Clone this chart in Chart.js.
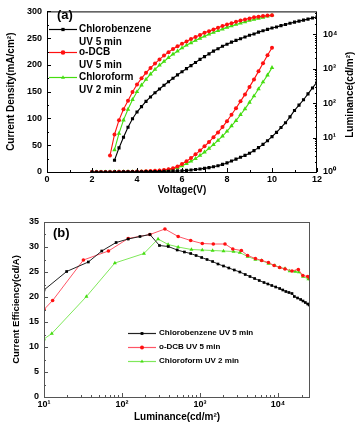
<!DOCTYPE html>
<html>
<head>
<meta charset="utf-8">
<script src="https://cdn.jsdelivr.net/npm/chart.js@4.4.1/dist/chart.umd.min.js"></script>
<style>
  html, body { margin: 0; padding: 0; background: #fff; }
  #wrap { position: relative; width: 356px; height: 424px; overflow: hidden; }
  canvas { position: absolute; left: 0; }
  #chartA { top: 0; }
  #chartB { top: 200px; }
</style>
</head>
<body>
<div id="wrap">
  <canvas id="chartA" width="356" height="200"></canvas>
  <canvas id="chartB" width="356" height="224"></canvas>
</div>
<script>
// ---- data, panel (a) ----
const solvents = ['Chlorobenzene', 'o-DCB', 'Chloroform'];
const treatments = ['UV 5 min', 'UV 5 min', 'UV 2 min'];

const voltage = [2.0, 2.2, 2.4, 2.6, 2.8, 3.0, 3.2, 3.4, 3.6, 3.8, 4.0, 4.2, 4.4, 4.6, 4.8,
  5.0, 5.2, 5.4, 5.6, 5.8, 6.0, 6.2, 6.4, 6.6, 6.8, 7.0, 7.2, 7.4, 7.6, 7.8, 8.0, 8.2, 8.4,
  8.6, 8.8, 9.0, 9.2, 9.4, 9.6, 9.8, 10.0, 10.2, 10.4, 10.6, 10.8, 11.0, 11.2, 11.4, 11.6,
  11.8, 12.0];

// current density (mA/cm2)
const jChloroBz = [0, 0, 0, 0, 0, 0.1, 0.1, 0.2, 0.2, 0.3, 0.4, 0.5, 0.6, 0.7, 0.9,
  1.0, 1.2, 1.4, 1.7, 2.0, 2.4, 3.0, 3.7, 4.6, 5.6, 6.8, 8.2, 9.8, 11.8, 14.2,
  17, 20.5, 24, 27.5, 31, 35, 40, 45.5, 51.5, 58.5, 66, 74, 83, 92, 103,
  115, 125, 135, 146, 157, 168];
const jODCB = [0, 0, 0, 0.1, 0.1, 0.2, 0.3, 0.4, 0.5, 0.7, 0.9, 1.1, 1.4, 1.8, 2.3,
  2.8, 3.8, 5.2, 7.2, 10.5, 15, 20, 26, 33, 40, 48, 56, 65, 74, 84,
  95, 107, 119, 132, 145, 159, 173, 188, 203, 218, 232,
  null, null, null, null, null, null, null, null, null, null];
const jChloroform = [0, 0, 0, 0, 0.1, 0.1, 0.2, 0.3, 0.4, 0.5, 0.7, 0.9, 1.1, 1.4, 1.8,
  2.2, 3.0, 4.1, 5.6, 8.1, 11.5, 15.5, 20, 25, 31, 37, 44, 51, 59, 67,
  76, 86, 96, 107, 118, 130, 142, 155, 168, 181, 195,
  null, null, null, null, null, null, null, null, null, null];

// luminance (cd/m2)
const lumChloroBz = [null, null, null, null, null, 2.2, 5.0, 10.2, 20, 35, 55, 79, 112, 151, 200,
  257, 331, 417, 525, 661, 813, 1000, 1230, 1510, 1860, 2240, 2690, 3240, 3800, 4470,
  5130, 5890, 6610, 7410, 8320, 9330, 10200, 11500, 12600, 13800, 15100, 16200, 17800, 19100, 20900,
  22400, 24000, 25700, 27500, 29500, 31600];
const lumODCB = [null, null, null, null, 3.0, 12.3, 32, 66, 117, 209, 347, 525, 759, 1050, 1410,
  1860, 2400, 3020, 3720, 4470, 5250, 6170, 7240, 8320, 9550, 11000, 12300, 13800, 15500, 17400,
  19100, 20900, 22900, 25100, 26900, 28800, 30900, 32400, 33900, 34700, 35500,
  null, null, null, null, null, null, null, null, null, null];
const lumChloroform = [null, null, null, null, null, 4.4, 13.2, 32, 66, 126, 214, 331, 490, 692, 955,
  1260, 1620, 2090, 2630, 3240, 3980, 4790, 5620, 6610, 7590, 8710, 10000, 11200, 12600, 14100,
  15800, 17400, 19100, 20900, 22900, 25100, 26900, 28800, 30900, 33100, 35500,
  null, null, null, null, null, null, null, null, null, null];

const voltTicks = [0, 2, 4, 6, 8, 10, 12];
const jTicks = [0, 50, 100, 150, 200, 250, 300];
const lumTicksA = [1, 10, 100, 1000, 10000];

// ---- data, panel (b) ----
const effLumBz = [10, 19.5, 37, 55, 84, 120, 170, 228, 302, 392, 510, 631, 759, 891, 1050,
  1230, 1450, 1700, 2000, 2340, 2750, 3240, 3800, 4370, 5010, 5750, 6610, 7410, 8320, 9330,
  10500, 11500, 12600, 13800, 15100, 16200, 17800, 19500, 20900, 22400, 24000, 25100];
const effBz = [21.4, 25.1, 27.0, 29.2, 30.9, 31.6, 32.1, 32.5, 30.3, 30.1, 29.4, 29.0, 28.7, 28.3, 27.9,
  27.5, 27.1, 26.6, 26.2, 25.8, 25.4, 25.0, 24.5, 24.1, 23.7, 23.3, 22.9, 22.6, 22.3, 22.0,
  21.7, 21.4, 21.1, 20.9, 20.7, 20.1, 19.8, 19.5, 19.2, 18.9, 18.6, 18.4];
const effLumDCB = [10, 12.9, 32, 67, 120, 228, 355, 525, 759, 1070, 1480, 2090, 2630, 3390, 4070,
  5130, 6170, 7540, 8910, 10500, 12300, 15100, 18200, 20800, 24000, 25700];
const effDCB = [17.5, 19.3, 27.4, 29.2, 31.7, 32.5, 33.6, 32.1, 31.3, 30.7, 30.6, 30.6, 29.6, 29.3, 28.3,
  27.7, 27.3, 26.9, 26.3, 25.9, 25.6, 25.2, 25.5, 24.3, 24.1, 23.7];
const effLumCF = [10, 12.6, 35, 81, 191, 290, 390, 525, 776, 1070, 1450, 2000, 2690, 3240, 4070,
  5130, 6170, 7540, 9120, 10500, 12300, 14100, 16600, 18500, 20900, 24500, 25700];
const effCF = [11.6, 12.7, 20.1, 26.8, 28.7, 31.6, 30.5, 30.0, 29.5, 29.4, 29.3, 29.2, 29.1, 28.9, 28.1,
  27.5, 27.3, 26.7, 26.3, 25.9, 25.7, 25.2, 25.1, 25.0, 24.1, 23.6, 23.6];

const effTicks = [0, 5, 10, 15, 20, 25, 30, 35];
const lumTicksB = [10, 100, 1000, 10000];

// ---- styles ----
const FONT = "'Liberation Sans', Arial, sans-serif";
const colors = ['#000000', '#ff1010', '#45dd10'];
const lineColorsB = ['#222222', '#ff5566', '#7fe85a'];
const markers = ['rect', 'circle', 'triangle'];
const radiusA = [2.2, 2.0, 2.6];
const radiusB = [1.9, 1.8, 2.3];

Chart.defaults.font.family = FONT;
Chart.defaults.color = '#000';

const SUP = { '0': '\u2070', '1': '\u00b9', '2': '\u00b2', '3': '\u00b3', '4': '\u2074', '5': '\u2075' };
const pow10 = v => '10' + SUP[String(Math.round(Math.log10(v)))];

function pts(xs, ys) {
  return xs.map((x, i) => ({ x: x, y: ys[i] })).filter(p => p.y !== null && p.y !== undefined);
}

function logMinors(lo, hi) {
  const out = [];
  for (let d = Math.floor(Math.log10(lo)); d <= Math.ceil(Math.log10(hi)); d++) {
    for (let m = 2; m <= 9; m++) {
      const v = m * Math.pow(10, d);
      if (v > lo && v < hi) out.push(v);
    }
  }
  return out;
}

function drawMarker(ctx, style, x, y, r, color) {
  ctx.fillStyle = color;
  ctx.beginPath();
  if (style === 'rect') {
    const s = r * Math.SQRT2;
    ctx.rect(x - s / 2, y - s / 2, s, s);
  } else if (style === 'circle') {
    ctx.arc(x, y, r, 0, Math.PI * 2);
  } else {
    ctx.moveTo(x, y - r);
    ctx.lineTo(x + r * 0.87, y + r * 0.5);
    ctx.lineTo(x - r * 0.87, y + r * 0.5);
    ctx.closePath();
  }
  ctx.fill();
}

// frame, inward ticks, panel label, custom legend
const frame = {
  id: 'frame',
  afterDatasetsDraw(chart, args, o) {
    const ctx = chart.ctx;
    const a = chart.chartArea;
    ctx.save();
    ctx.strokeStyle = o.color;
    ctx.lineWidth = 1;
    ctx.strokeRect(a.left + 0.5, a.top + 0.5, a.right - a.left - 1, a.bottom - a.top);
    o.marks.forEach(m => {
      const s = chart.scales[m.axis];
      m.values.forEach(v => {
        const p = Math.round(s.getPixelForValue(v)) + 0.5;
        ctx.beginPath();
        if (m.axis === 'x') { ctx.moveTo(p, a.bottom); ctx.lineTo(p, a.bottom - m.len); }
        else if (s.position === 'left') { ctx.moveTo(a.left, p); ctx.lineTo(a.left + m.len, p); }
        else { ctx.moveTo(a.right, p); ctx.lineTo(a.right - m.len, p); }
        ctx.stroke();
      });
    });

    ctx.fillStyle = '#000';
    ctx.textBaseline = 'middle';
    ctx.textAlign = 'left';
    ctx.font = 'bold 13px ' + FONT;
    ctx.fillText(o.panel[0], o.panel[1], o.panel[2]);

    if (o.rightTitle) {
      ctx.save();
      ctx.translate(o.rightTitle.x, (a.top + a.bottom) / 2 + 3);
      ctx.rotate(-Math.PI / 2);
      ctx.textAlign = 'center';
      ctx.font = 'bold 10px ' + FONT;
      ctx.fillText(o.rightTitle.text, 0, 0);
      ctx.restore();
    }

    const L = o.legend;
    ctx.font = 'bold ' + L.size + 'px ' + FONT;
    L.rows.forEach((row, i) => {
      const y = L.y[i];
      ctx.strokeStyle = row.line;
      ctx.lineWidth = 1.2;
      ctx.beginPath();
      ctx.moveTo(L.x0, y + 0.5);
      ctx.lineTo(L.x1, y + 0.5);
      ctx.stroke();
      drawMarker(ctx, row.marker, (L.x0 + L.x1) / 2, y + 0.5, L.r, row.color);
      ctx.fillStyle = '#000';
      row.text.forEach((t, k) => ctx.fillText(t, L.tx, y + k * L.dy));
    });
    ctx.restore();
  }
};

const tickFont = { family: FONT, size: 9, weight: 'bold' };

// ---- chart (a) ----
const dsA = [];
[jChloroBz, jODCB, jChloroform].forEach((arr, i) => {
  dsA.push({
    label: solvents[i] + ' J', data: pts(voltage, arr), yAxisID: 'y',
    borderColor: colors[i], backgroundColor: colors[i], borderWidth: 1.1,
    pointStyle: markers[i], pointRadius: radiusA[i], pointBorderWidth: 0,
    showLine: true
  });
});
[lumChloroBz, lumODCB, lumChloroform].forEach((arr, i) => {
  dsA.push({
    label: solvents[i] + ' L', data: pts(voltage, arr), yAxisID: 'y1',
    borderColor: colors[i], backgroundColor: colors[i], borderWidth: 1.1,
    pointStyle: markers[i], pointRadius: radiusA[i], pointBorderWidth: 0,
    showLine: true
  });
});

new Chart(document.getElementById('chartA'), {
  type: 'scatter',
  data: { datasets: dsA },
  options: {
    responsive: false, animation: false, devicePixelRatio: 1,
    layout: { padding: { top: 5, left: 0, right: 0, bottom: 0 } },
    plugins: {
      legend: { display: false }, tooltip: { enabled: false },
      frame: {
        color: '#000',
        marks: [
          { axis: 'x', values: voltTicks, len: 4 },
          { axis: 'x', values: [1, 3, 5, 7, 9, 11], len: 2 },
          { axis: 'y', values: jTicks, len: 4 },
          { axis: 'y', values: [25, 75, 125, 175, 225, 275], len: 2 },
          { axis: 'y1', values: lumTicksA, len: 4 },
          { axis: 'y1', values: logMinors(1, 46000), len: 2 }
        ],
        panel: ['(a)', 57, 15],
        rightTitle: { text: 'Luminance(cd/m\u00b2)', x: 350 },
        legend: {
          x0: 49, x1: 77, tx: 79, r: 2.3, size: 10, dy: 13,
          y: [29, 52, 77],
          rows: solvents.map((s, i) => ({ text: [s, treatments[i]], color: colors[i], line: colors[i], marker: markers[i] }))
        }
      }
    },
    scales: {
      x: {
        type: 'linear', min: 0, max: 12,
        afterBuildTicks: s => { s.ticks = voltTicks.map(v => ({ value: v })); },
        ticks: { font: tickFont, color: '#000', padding: 2, autoSkip: false, maxRotation: 0 },
        grid: { display: false, drawTicks: false }, border: { display: false },
        title: { display: true, text: 'Voltage(V)', font: { family: FONT, size: 10, weight: 'bold' }, color: '#000', padding: { top: 0, bottom: 4 } },
        afterFit: s => { s.height = 28; }
      },
      y: {
        type: 'linear', position: 'left', min: 0, max: 300,
        afterBuildTicks: s => { s.ticks = jTicks.map(v => ({ value: v })); },
        ticks: { font: tickFont, color: '#000', padding: 5, autoSkip: false },
        grid: { display: false, drawTicks: false }, border: { display: false },
        title: { display: true, text: 'Current Density(mA/cm\u00b2)', font: { family: FONT, size: 10, weight: 'bold' }, color: '#000', padding: { top: 5, bottom: 0 } },
        afterFit: s => { s.width = 47; }
      },
      y1: {
        type: 'logarithmic', position: 'right', min: 1, max: 46000,
        afterBuildTicks: s => { s.ticks = lumTicksA.map(v => ({ value: v })); },
        ticks: { font: tickFont, color: '#000', padding: 6, autoSkip: false, callback: v => pow10(v) },
        grid: { display: false, drawTicks: false }, border: { display: false },
        afterFit: s => { s.width = 39; }
      }
    }
  },
  plugins: [frame]
});

// ---- chart (b) ----
const dsB = [[effLumBz, effBz], [effLumDCB, effDCB], [effLumCF, effCF]].map((p, i) => ({
  label: solvents[i] + ' ' + treatments[i], data: pts(p[0], p[1]),
  borderColor: lineColorsB[i], backgroundColor: colors[i], borderWidth: 1,
  pointStyle: markers[i], pointRadius: radiusB[i], pointBorderWidth: 0,
  showLine: true
}));

new Chart(document.getElementById('chartB'), {
  type: 'scatter',
  data: { datasets: dsB },
  options: {
    responsive: false, animation: false, devicePixelRatio: 1,
    layout: { padding: { top: 22, left: 0, right: 46, bottom: 0 } },
    plugins: {
      legend: { display: false }, tooltip: { enabled: false },
      frame: {
        color: '#555',
        marks: [
          { axis: 'x', values: lumTicksB, len: 4 },
          { axis: 'x', values: logMinors(10, 25700), len: 2 },
          { axis: 'y', values: effTicks, len: 4 },
          { axis: 'y', values: [2.5, 7.5, 12.5, 17.5, 22.5, 27.5, 32.5], len: 2 }
        ],
        panel: ['(b)', 53, 33],
        legend: {
          x0: 128, x1: 156, tx: 159, r: 2.0, size: 8, dy: 0,
          y: [133, 147, 161],
          rows: solvents.map((s, i) => ({ text: [s + ' ' + treatments[i]], color: colors[i], line: lineColorsB[i], marker: markers[i] }))
        }
      }
    },
    scales: {
      x: {
        type: 'logarithmic', min: 10, max: 25700,
        afterBuildTicks: s => { s.ticks = lumTicksB.map(v => ({ value: v })); },
        ticks: { font: tickFont, color: '#000', padding: 2, autoSkip: false, maxRotation: 0, callback: v => pow10(v) },
        grid: { display: false, drawTicks: false }, border: { display: false },
        title: { display: true, text: 'Luminance(cd/m\u00b2)', font: { family: FONT, size: 10, weight: 'bold' }, color: '#000', padding: { top: 0, bottom: 1 } },
        afterFit: s => { s.height = 27; }
      },
      y: {
        type: 'linear', position: 'left', min: 0, max: 35,
        afterBuildTicks: s => { s.ticks = effTicks.map(v => ({ value: v })); },
        ticks: { font: tickFont, color: '#000', padding: 5, autoSkip: false },
        grid: { display: false, drawTicks: false }, border: { display: false },
        title: { display: true, text: 'Current Efficiency(cd/A)', font: { family: FONT, size: 9.5, weight: 'bold' }, color: '#000', padding: { top: 11, bottom: 0 } },
        afterFit: s => { s.width = 44; }
      }
    }
  },
  plugins: [frame]
});
</script>
</body>
</html>
